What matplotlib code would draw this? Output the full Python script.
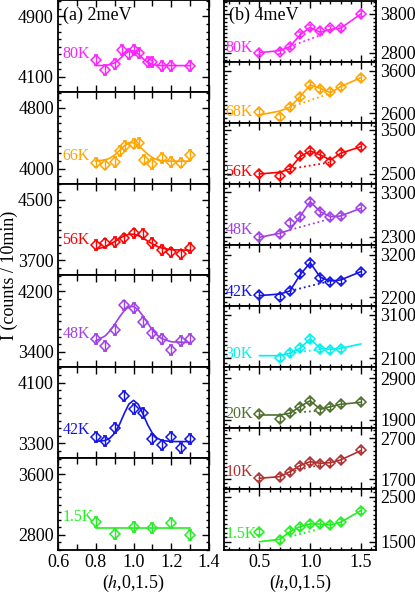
import numpy as np
import matplotlib
matplotlib.use('Agg')
import matplotlib.pyplot as plt
from matplotlib.ticker import MultipleLocator, FixedLocator

plt.rcParams['font.family'] = 'Liberation Serif'
plt.rcParams['mathtext.fontset'] = 'stix'

# ---------------- (a) 2 meV ----------------
a_temps = ['80K', '66K', '56K', '48K', '42K', '1.5K']
a_colors = ['#ff22ff', '#ffa500', '#ff0000', '#a040e8', '#1414e6', '#22ee22']

a80_x = [0.8, 0.85, 0.9, 0.94, 0.975, 1.0, 1.03, 1.075, 1.1, 1.15, 1.2, 1.3]
a80_y = [4320, 4188, 4267, 4460, 4408, 4452, 4416, 4298, 4298, 4249, 4249, 4249]
a66_x = [0.8, 0.85, 0.9, 0.93, 0.955, 1.0, 1.03, 1.055, 1.1, 1.15, 1.2, 1.25, 1.3]
a66_y = [4079, 4053, 4088, 4233, 4299, 4330, 4338, 4119, 4057, 4141, 4088, 4079, 4176]
a56_x = [0.8, 0.85, 0.9, 0.95, 1.0, 1.05, 1.1, 1.15, 1.2, 1.25, 1.3]
a56_y = [3898, 3920, 3942, 3986, 4052, 4043, 3929, 3832, 3801, 3775, 3863]
a48_x = [0.8, 0.85, 0.9, 0.95, 1.0, 1.05, 1.1, 1.15, 1.2, 1.25, 1.3]
a48_y = [3563, 3475, 3686, 4011, 3980, 3796, 3642, 3571, 3422, 3541, 3563]
a42_x = [0.8, 0.85, 0.9, 0.95, 1.0, 1.05, 1.1, 1.15, 1.2, 1.25, 1.3]
a42_y = [3388, 3335, 3499, 3928, 3751, 3698, 3353, 3278, 3388, 3234, 3362]
a1_x = [0.8, 0.9, 1.0, 1.1, 1.2, 1.3]
a1_y = [2966, 2813, 2909, 2896, 2953, 2800]

# fitted curves
a_fit_x = [0.8, 0.85, 0.875, 0.9, 0.925, 0.95, 0.975, 1.0, 1.025, 1.05,
           1.075, 1.1, 1.125, 1.15, 1.2, 1.3]
a80_fit = [4250, 4253, 4263, 4287, 4333, 4393, 4441, 4446, 4405, 4344,
           4294, 4266, 4254, 4251, 4250, 4250]
a66_fit = [4099, 4114, 4137, 4178, 4236, 4297, 4339, 4344, 4308, 4249,
           4189, 4144, 4117, 4104, 4097, 4097]
a56_fit = [3843, 3876, 3907, 3944, 3985, 4020, 4041, 4043, 4025, 3992,
           3952, 3914, 3882, 3859, 3837, 3830]
a48_fit = [3541, 3609, 3674, 3760, 3855, 3940, 3993, 3998, 3954, 3873,
           3778, 3690, 3620, 3573, 3531, 3520]
a42_fit = [3323, 3337, 3368, 3433, 3545, 3688, 3816, 3867, 3816, 3688,
           3545, 3433, 3368, 3337, 3323, 3322]
a1_fit_x = [0.8, 1.3]
a1_fit = [2887, 2887]

a_ylims = [(3900, 5110), (3800, 5010), (3500, 4710), (3200, 4410), (3100, 4310), (2600, 3810)]
a_yticks = [[4100, 4900], [4000, 4800], [3700, 4500], [3400, 4200], [3300, 4100], [2800, 3600]]
a_err = [65, 65, 65, 65, 65, 65]

# ---------------- (b) 4 meV ----------------
b_temps = ['80K', '68K', '56K', '48K', '42K', '30K', '20K', '10K', '1.5K']
b_colors = ['#ff22ff', '#ffa500', '#ff0000', '#a040e8', '#1414e6', '#00f0f0',
            '#4f6f2f', '#b03030', '#22ee22']

b_x = [0.5, 0.7, 0.8, 0.9, 1.0, 1.1, 1.2, 1.3, 1.5]
b30_x = [0.7, 0.8, 0.9, 1.0, 1.1, 1.2, 1.3]
b80_y = [2800, 2826, 2955, 3275, 3456, 3361, 3430, 3430, 3800]
b68_y = [2638, 2506, 2741, 2976, 3264, 3163, 3107, 3224, 3436]
b56_y = [2500, 2454, 2614, 2909, 3023, 2932, 2766, 2970, 3120]
b48_y = [2287, 2361, 2603, 2753, 3092, 2866, 2739, 2768, 2943]
b42_y = [2254, 2200, 2349, 2744, 3018, 2649, 2569, 2592, 2805]
b30_y = [2100, 2230, 2345, 2546, 2308, 2292, 2308]
b20_y = [2037, 1924, 2061, 2219, 2363, 2140, 2219, 2277, 2324]
b10_y = [1724, 1763, 1885, 2032, 2129, 2066, 2105, 2171, 2415]
b1_y = [1709, 1538, 1738, 1833, 1893, 1893, 1871, 1931, 2189]

b80_fit = [2800, 2852, 2955, 3257, 3456, 3327, 3405, 3430, 3800]
b68_fit = [2560, 2654, 2741, 2990, 3264, 3187, 3084, 3224, 3436]
b56_fit = [2500, 2539, 2614, 2893, 3023, 2932, 2818, 2970, 3120]
b48_fit = [2287, 2377, 2452, 2753, 3092, 2866, 2753, 2768, 2943]
b42_fit = [2238, 2278, 2349, 2727, 3018, 2673, 2585, 2609, 2805]
b30_fit = [2160, 2160, 2216, 2331, 2546, 2331, 2308, 2331, 2430]
b20_fit = [2020, 2020, 2061, 2219, 2363, 2157, 2219, 2277, 2324]
b10_fit = [1724, 1763, 1885, 2032, 2129, 2090, 2105, 2171, 2398]
b1_fit = [1500, 1553, 1722, 1833, 1893, 1893, 1871, 1931, 2189]

# dotted backgrounds under the peak
b_bg_x = [[0.8, 1.15], [0.8, 1.18], [0.8, 1.2], [0.8, 1.18], [0.8, 1.2],
          [0.8, 1.1], [0.8, 1.08], [0.8, 1.1], [0.8, 1.08]]
b_bg_y = [[2955, 3301], [2741, 3053], [2614, 2766], [2452, 2694], [2349, 2585],
          [2216, 2308], [2061, 2123], [1885, 2049], [1611, 1776]]

b_ylims = [(2570, 4149), (2382, 3814), (2279, 3668), (2119, 3499), (1999, 3443),
           (1902, 3312), (1711, 3173), (1463, 2954), (1316, 2671)]
b_yticks = [[2800, 3800], [2600, 3600], [2500, 3500], [2300, 3300], [2200, 3200],
            [2100, 3100], [1900, 2900], [1700, 2700], [1500, 2500]]
b_err = [70] * 9

a_data = [(a80_x, a80_y, a_fit_x, a80_fit), (a66_x, a66_y, a_fit_x, a66_fit),
          (a56_x, a56_y, a_fit_x, a56_fit), (a48_x, a48_y, a_fit_x, a48_fit),
          (a42_x, a42_y, a_fit_x, a42_fit), (a1_x, a1_y, a1_fit_x, a1_fit)]
b_data = [(b_x, b80_y, b80_fit), (b_x, b68_y, b68_fit), (b_x, b56_y, b56_fit),
          (b_x, b48_y, b48_fit), (b_x, b42_y, b42_fit), (b30_x, b30_y, b30_fit),
          (b_x, b20_y, b20_fit), (b_x, b10_y, b10_fit), (b_x, b1_y, b1_fit)]

# label positions inside each panel (axes fraction)
a_lab_y = [0.42, 0.30, 0.39, 0.356, 0.31, 0.363]
b_lab_y = [0.226, 0.17, 0.19, 0.247, 0.226, 0.203, 0.226, 0.282, 0.257]

W, H = 415, 596
fig = plt.figure(figsize=(W / 100, H / 100), dpi=100)


def px_axes(x0, y0, x1, y1):
    return fig.add_axes([x0 / W, 1 - y1 / H, (x1 - x0) / W, (y1 - y0) / H])


def style(ax):
    for s in ax.spines.values():
        s.set_linewidth(1.3)
    ax.tick_params(which='both', direction='in', top=True, right=True,
                   left=True, bottom=True, width=1.0, labelsize=13, pad=3)
    ax.tick_params(which='major', length=5)
    ax.tick_params(which='minor', length=2.5)


top, bot = 0.5, 550
ha = (bot - top) / 6
for i in range(6):
    ax = px_axes(58, top + i * ha, 209, top + (i + 1) * ha)
    style(ax)
    x, y, fx, fy = a_data[i]
    c = a_colors[i]
    ax.plot(fx, fy, '-', color=c, lw=1.2)
    ax.errorbar(x, y, yerr=a_err[i], fmt='D', mfc='none', mec=c, ecolor=c,
                ms=5.5, mew=1.1, elinewidth=1.0, capsize=1.5, capthick=1.0)
    ax.set_xlim(0.6, 1.4)
    ax.set_ylim(*a_ylims[i])
    ax.xaxis.set_major_locator(MultipleLocator(0.2))
    ax.xaxis.set_minor_locator(MultipleLocator(0.1))
    ax.tick_params(axis='x', which='minor', length=4)
    ax.yaxis.set_major_locator(FixedLocator(a_yticks[i]))
    ax.yaxis.set_minor_locator(MultipleLocator(100))
    ax.text(0.03, a_lab_y[i], a_temps[i], color=c, fontsize=11.5,
            transform=ax.transAxes, va='center', ha='left')
    if i == 0:
        ax.text(0.035, 0.84, '(a) 2meV', fontsize=13, transform=ax.transAxes,
                va='center', ha='left')
    if i < 5:
        ax.tick_params(labelbottom=False)
    else:
        ax.set_xticks([0.6, 0.8, 1.0, 1.2, 1.4])
        ax.set_xticklabels(['0.6', '0.8', '1.0', '1.2', '1.4'])
        ax.set_xlabel('($h$,0,1.5)', fontsize=13, labelpad=1)

hb = (bot - top) / 9
for i in range(9):
    ax = px_axes(224, top + i * hb, 376, top + (i + 1) * hb)
    style(ax)
    x, y, fy = b_data[i]
    c = b_colors[i]
    ax.plot(b_x, fy, '-', color=c, lw=1.2)
    ax.plot(b_bg_x[i], b_bg_y[i], ':', color=c, lw=1.3)
    ax.errorbar(x, y, yerr=b_err[i], fmt='D', mfc='none', mec=c, ecolor=c,
                ms=5.5, mew=1.1, elinewidth=1.0, capsize=1.5, capthick=1.0)
    ax.set_xlim(0.15, 1.65)
    ax.set_ylim(*b_ylims[i])
    ax.xaxis.set_major_locator(MultipleLocator(0.5))
    ax.xaxis.set_minor_locator(MultipleLocator(0.1))
    ax.yaxis.set_major_locator(FixedLocator(b_yticks[i]))
    ax.yaxis.set_minor_locator(MultipleLocator(100))
    ax.tick_params(labelleft=False, labelright=True)
    ax.text(0.01, b_lab_y[i], b_temps[i], color=c, fontsize=11.5,
            transform=ax.transAxes, va='center', ha='left')
    if i == 0:
        ax.text(0.035, 0.755, '(b) 4meV', fontsize=13, transform=ax.transAxes,
                va='center', ha='left')
    if i < 8:
        ax.tick_params(labelbottom=False)
    else:
        ax.set_xticks([0.5, 1.0, 1.5])
        ax.set_xticklabels(['0.5', '1.0', '1.5'])
        ax.set_xlabel('($h$,0,1.5)', fontsize=13, labelpad=1)

fig.text(9 / W, 1 - 275 / H, 'I (counts / 10min)', rotation=90, fontsize=13,
         va='center', ha='center')

fig.savefig('out.png', dpi=100)
